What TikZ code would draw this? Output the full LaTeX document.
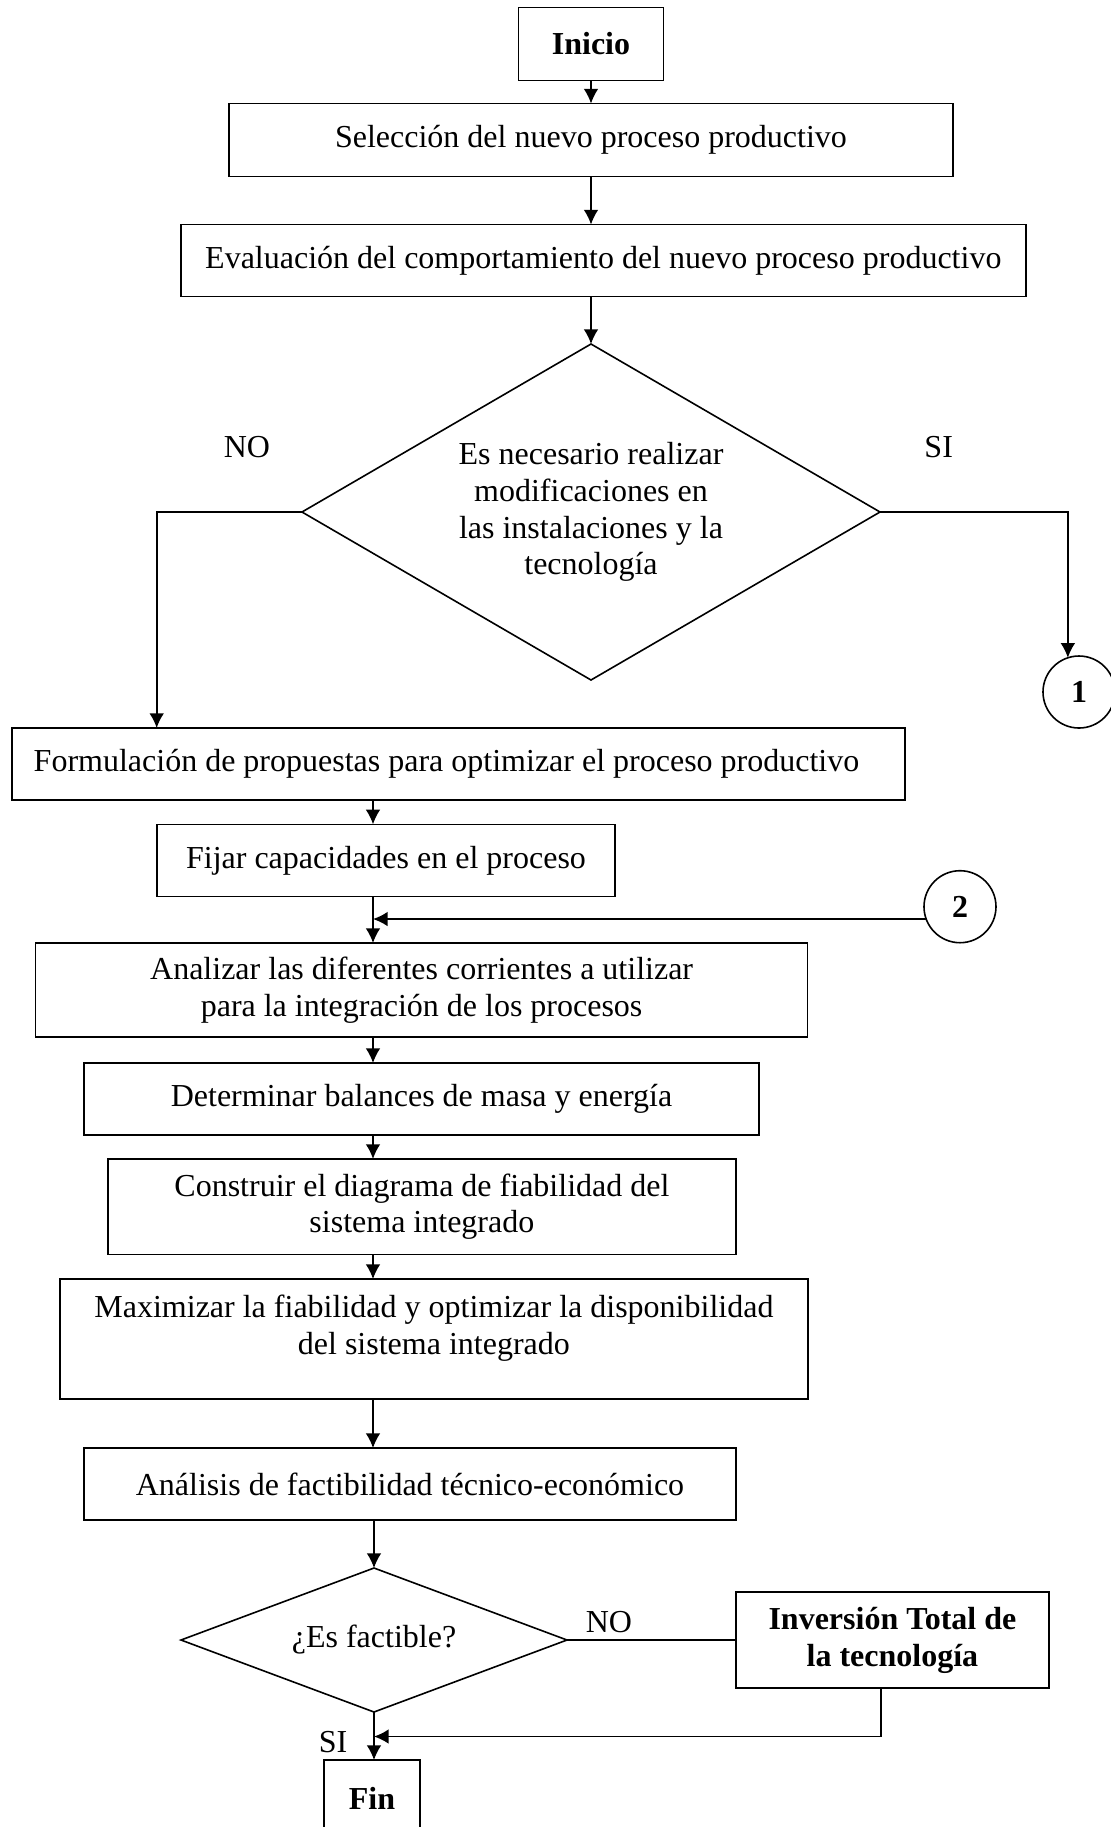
\documentclass[tikz,border=0pt]{standalone}
\usepackage{fontspec}
\setmainfont{Liberation Serif}
\usetikzlibrary{arrows.meta,shapes.geometric}
\newcommand\pxu{0.375pt}
\begin{document}
\begin{tikzpicture}[x=0.375pt,y=-0.375pt,
  every node/.style={font=\fontsize{12}{13.8}\selectfont},
  box/.style={draw, line width=0.6pt, inner sep=0pt, outer sep=0pt, align=center},
  dec/.style={draw, diamond, line width=0.6pt, inner sep=0pt, outer sep=0pt, align=center},
  conn/.style={draw, circle, line width=0.6pt, inner sep=0pt, outer sep=0pt, minimum size=72*\pxu, font=\fontsize{12}{13.8}\selectfont\bfseries},
  lbl/.style={inner sep=0pt},
  arr/.style={line width=0.6pt, -{Latex[length=5.5pt,width=5.5pt]}},
  ln/.style={line width=0.6pt}]
\useasboundingbox (0,0) rectangle (1111,1827);

\node[box, minimum width=145*\pxu, minimum height=73*\pxu, font=\fontsize{12}{13.8}\selectfont\bfseries] (inicio) at (591,44) {Inicio};
\node[box, minimum width=724*\pxu, minimum height=73*\pxu] (sel) at (591,140) {Selección del nuevo proceso productivo};
\node[box, minimum width=845*\pxu, minimum height=72*\pxu] (eval) at (603.3,260.5) {Evaluación del comportamiento del nuevo proceso productivo};
\node[dec, minimum width=578*\pxu, minimum height=336*\pxu, aspect=1.72] (d1) at (591,512) {Es necesario realizar\\modificaciones en\\las instalaciones y la\\tecnología};
\node[conn] (c1) at (1079,692) {1};
\node[box, minimum width=893*\pxu, minimum height=72*\pxu] (form) at (458.5,764) {Formulación de propuestas para optimizar el proceso productivo\hspace*{9pt}};
\node[box, minimum width=458*\pxu, minimum height=72*\pxu] (fijar) at (386,860.3) {Fijar capacidades en el proceso};
\node[conn] (c2) at (960,906.7) {2};
\node[box, minimum width=772*\pxu, minimum height=94*\pxu] (anal) at (421.6,990) {Analizar las diferentes corrientes a utilizar\\para la integración de los procesos};
\node[box, minimum width=675*\pxu, minimum height=72*\pxu] (det) at (421.5,1099) {Determinar balances de masa y energía};
\node[box, minimum width=628*\pxu, minimum height=95.5*\pxu] (cons) at (421.9,1206.7) {Construir el diagrama de fiabilidad del\\sistema integrado};
\node[box, minimum width=748*\pxu, minimum height=120*\pxu, text depth=11pt] (max) at (433.9,1339) {Maximizar la fiabilidad y optimizar la disponibilidad\\del sistema integrado};
\node[box, minimum width=652*\pxu, minimum height=72*\pxu] (ana) at (410,1484) {Análisis de factibilidad técnico-económico};
\node[dec, minimum width=386*\pxu, minimum height=144*\pxu, aspect=2.68] (d2) at (374,1640) {¿Es factible?};
\node[box, minimum width=313*\pxu, minimum height=96*\pxu, font=\fontsize{12}{13.8}\selectfont\bfseries] (inv) at (892.4,1640) {Inversión Total de\\la tecnología};
\node[box, minimum width=96*\pxu, minimum height=76*\pxu, font=\fontsize{12}{13.8}\selectfont\bfseries] (fin) at (372,1798) {Fin};

\node[lbl] (no1) at (247,447) {NO};
\node[lbl] (si1) at (938.7,447) {SI};
\node[lbl] (no2) at (609,1622) {NO};
\node[lbl] (si2) at (333,1742) {SI};

\coordinate (sp) at (373,0);
\coordinate (nox) at (156.7,0);
\coordinate (ret) at (881,1736.5);

\draw[arr] (inicio) -- (sel);
\draw[arr] (sel.south) -- (sel.south |- eval.north);
\draw[arr] (d1.north |- eval.south) -- (d1.north);
\draw[arr] (d1.west) -| (nox |- form.north);
\draw[arr] (d1.east) -| (c1.108);
\draw[arr] (sp |- form.south) -- (sp |- fijar.north);
\draw[arr] (sp |- fijar.south) -- (sp |- anal.north);
\draw[arr] (c2.200) -- (sp |- c2.200);
\draw[arr] (sp |- anal.south) -- (sp |- det.north);
\draw[arr] (sp |- det.south) -- (sp |- cons.north);
\draw[arr] (sp |- cons.south) -- (sp |- max.north);
\draw[arr] (sp |- max.south) -- (sp |- ana.north);
\draw[arr] (d2.north |- ana.south) -- (d2.north);
\draw[arr] (d2.south) -- (d2.south |- fin.north);
\draw[ln] (d2.east) -- (inv.west);
\draw[arr] (inv.south -| ret) |- (d2.south |- ret);
\end{tikzpicture}
\end{document}
